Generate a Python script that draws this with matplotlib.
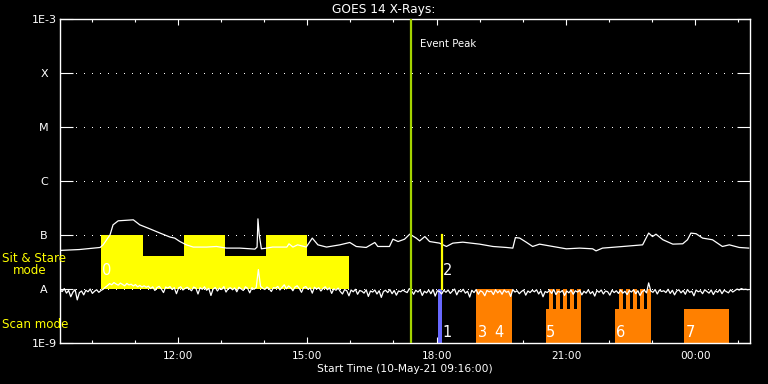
import numpy as np
import matplotlib
matplotlib.use("Agg")
import matplotlib.pyplot as plt

# ---------------- data (time in hours after 10-May-21 09:16:00) ----------------
title = "GOES 14 X-Rays:"
xlabel = "Start Time (10-May-21 09:16:00)"

xtick_major_hours = [2.733, 5.733, 8.733, 11.733, 14.733]
xtick_major_labels = ["12:00", "15:00", "18:00", "21:00", "00:00"]
xtick_minor_hours = [0.733, 1.733, 3.733, 4.733, 6.733, 7.733, 9.733, 10.733,
                     12.733, 13.733, 15.733]

ytick_values = [1e-9, 1e-8, 1e-7, 1e-6, 1e-5, 1e-4, 1e-3]
ytick_labels = ["1E-9", "A", "B", "C", "M", "X", "1E-3"]
grid_levels = [1e-8, 1e-7, 1e-6, 1e-5, 1e-4]

# long-wavelength channel (upper curve)
long_t = [0.00, 0.45, 0.93, 1.00, 1.16, 1.23, 1.35, 1.70, 1.85, 2.08, 2.32, 2.55,
          2.66, 2.78, 2.93, 3.09, 3.40, 3.63, 3.86, 4.17, 4.52, 4.57, 4.59, 4.62,
          4.67, 4.79, 4.93, 5.26, 5.31, 5.40, 5.51, 5.71, 5.85, 5.98, 6.18, 6.49,
          6.72, 6.87, 7.10, 7.30, 7.37, 7.64, 7.72, 7.84, 7.99, 8.11, 8.26, 8.34,
          8.46, 8.57, 8.80, 8.96, 9.11, 9.34, 9.73, 10.04, 10.35, 10.50, 10.56,
          10.66, 10.81, 10.96, 11.12, 11.43, 11.74, 12.05, 12.35, 12.43, 12.58,
          13.05, 13.51, 13.65, 13.74, 13.82, 13.98, 14.21, 14.44, 14.55, 14.63,
          14.75, 14.90, 15.13, 15.36, 15.52, 15.75, 15.97]
long_flux = [5.2e-8, 5.4e-8, 5.9e-8, 6.6e-8, 1.01e-7, 1.55e-7, 1.84e-7, 1.92e-7,
             1.55e-7, 1.31e-7, 1.09e-7, 9.2e-8, 8.8e-8, 7.6e-8, 6.6e-8, 6.0e-8,
             6.0e-8, 6.15e-8, 5.74e-8, 5.74e-8, 5.5e-8, 6.0e-8, 2.0e-7, 1.0e-7,
             5.57e-8, 5.74e-8, 6.0e-8, 6.0e-8, 6.9e-8, 6.0e-8, 6.6e-8, 6.0e-8,
             8.8e-8, 6.6e-8, 6.0e-8, 6.6e-8, 7.3e-8, 6.15e-8, 5.9e-8, 7.3e-8,
             6.15e-8, 6.15e-8, 8.4e-8, 7.6e-8, 8.4e-8, 1.04e-7, 8.8e-8, 7.8e-8,
             9.4e-8, 7.6e-8, 7.1e-8, 6.15e-8, 7.1e-8, 7.4e-8, 6.8e-8, 6.15e-8,
             5.9e-8, 5.74e-8, 9.0e-8, 8.8e-8, 7.4e-8, 6.15e-8, 6.8e-8, 6.15e-8,
             5.57e-8, 5.74e-8, 5.57e-8, 5.1e-8, 5.74e-8, 6.15e-8, 6.6e-8, 1.09e-7,
             9.4e-8, 1.04e-7, 8.2e-8, 6.8e-8, 6.9e-8, 8.2e-8, 1.09e-7, 1.06e-7,
             8.8e-8, 8.2e-8, 6.15e-8, 6.6e-8, 5.9e-8, 5.74e-8]

# short-wavelength channel (lower curve), one value every 0.05 h, in units of 1e-9 W/m^2
short_step_hours = 0.05
short_flux_e9 = [
    9.6, 9.0, 10.2, 8.4, 9.4, 7.2, 8.8, 9.8, 6.3, 8.6, 9.2, 7.8, 9.5, 8.9, 10.0, 8.3, 9.1, 9.7, 8.7, 9.4,
    9.9, 10.8, 11.6, 12.6, 12.0, 13.2, 12.4, 11.8, 12.9, 12.2, 11.5, 12.7, 11.9, 12.3, 11.4, 12.1, 11.0, 11.7, 10.9, 11.5,
    10.8, 11.3, 10.2, 11.0, 9.4, 10.7, 11.2, 10.0, 8.6, 10.9, 10.4, 11.1, 9.8, 10.6, 8.2, 10.5, 11.0, 9.6, 10.3, 10.8,
    10.1, 9.3, 10.9, 10.4, 8.1, 10.6, 9.9, 11.0, 9.5, 10.3, 7.6, 10.0, 10.7, 9.2, 10.4, 9.8, 11.1, 8.8, 10.2, 10.6,
    9.7, 10.5, 8.9, 10.8, 10.1, 9.4, 11.0, 10.3, 8.5, 10.6, 9.9, 10.7, 23.0, 11.2, 10.4, 9.8, 10.9, 10.2, 9.0, 10.6,
    10.4, 11.2, 9.6, 10.8, 12.0, 10.1, 11.4, 10.6, 9.3, 10.9, 11.5, 10.2, 8.7, 10.7, 11.1, 9.9, 10.5, 8.4, 10.8, 10.0,
    10.6, 9.2, 10.3, 11.0, 9.7, 10.5, 8.3, 10.1, 9.5, 10.4, 9.0, 8.1, 9.8, 9.3, 7.5, 9.6, 8.9, 9.9, 8.0, 9.4,
    9.1, 8.4, 9.7, 7.3, 9.2, 8.8, 9.6, 8.1, 9.3, 7.0, 9.0, 9.5, 8.6, 9.8, 8.2, 9.4, 7.7, 9.2, 8.9, 9.6,
    9.0, 8.6, 10.2, 9.3, 8.0, 9.5, 8.8, 9.7, 7.6, 9.1, 8.5, 9.6, 8.2, 9.8, 7.4, 9.3, 9.0, 8.1, 9.5, 8.7,
    9.6, 8.3, 9.2, 10.0, 7.8, 9.4, 8.9, 9.9, 8.4, 9.1, 7.1, 9.5, 8.6, 9.8, 8.0, 9.3, 8.8, 7.5, 9.4, 8.9,
    9.2, 7.9, 9.7, 8.5, 9.4, 8.0, 9.6, 8.7, 9.1, 7.3, 9.8, 8.8, 9.3, 8.2, 9.0, 9.6, 7.7, 9.2, 8.6, 9.5,
    8.9, 9.7, 8.1, 9.3, 7.2, 9.0, 8.6, 9.5, 8.3, 9.8, 7.9, 9.1, 8.7, 9.4, 7.6, 9.2, 8.5, 9.6, 8.0, 9.3,
    8.8, 9.5, 7.8, 9.1, 8.4, 9.7, 8.2, 9.0, 7.4, 9.4, 8.7, 9.6, 8.1, 9.2, 8.9, 7.7, 9.5, 8.6, 9.3, 8.3,
    9.6, 8.4, 9.1, 7.9, 9.4, 8.8, 9.7, 8.2, 9.3, 7.6, 9.0, 9.5, 8.5, 13.0, 9.2, 8.7, 9.8, 8.1, 9.6, 9.0,
    9.3, 8.6, 9.9, 8.3, 9.5, 7.8, 9.2, 9.7, 8.5, 9.4, 8.0, 9.8, 8.7, 9.1, 7.5, 9.6, 8.9, 9.3, 8.2, 9.7,
    9.0, 8.4, 9.6, 7.9, 9.3, 8.7, 9.8, 8.2, 9.5, 9.0, 8.5, 9.7, 8.8, 9.4, 10.0, 9.6, 10.2, 9.8, 9.9, 9.7,
]

# Sit & Stare mode blocks
ss_start = [0.95, 1.92, 2.87, 3.82, 4.77, 5.72]
ss_end = [1.92, 2.87, 3.82, 4.77, 5.72, 6.69]
ss_top = [1e-7, 4.1e-8, 1e-7, 4.1e-8, 1e-7, 4.1e-8]
ss_bottom = 1e-8

# Scan mode blocks: base rectangles and raster "fingers"
scan_start = [9.65, 11.26, 12.88, 14.48]
scan_end = [10.49, 12.08, 13.71, 15.52]
scan_top = [1e-8, 4.2e-9, 4.2e-9, 4.2e-9]
scan_bottom = 1e-9
finger_start = [11.34, 11.50, 11.66, 11.82, 11.99, 12.96, 13.12, 13.28, 13.45, 13.62]
finger_end = [11.43, 11.59, 11.75, 11.91, 12.08, 13.05, 13.21, 13.37, 13.54, 13.71]
finger_top = 1e-8

event_peak_hour = 8.13
obs1_start, obs1_end = 8.76, 8.85
obs2_hour = 8.85

number_labels = ["0", "1", "2", "3", "4", "5", "6", "7"]
number_hours = [0.98, 8.87, 8.87, 9.68, 10.08, 11.27, 12.9, 14.5]
number_flux = [2.2e-8, 1.55e-9, 2.2e-8, 1.55e-9, 1.55e-9, 1.55e-9, 1.55e-9, 1.55e-9]

# ---------------- drawing ----------------
W, H = 768, 384
fig = plt.figure(figsize=(W / 100, H / 100), dpi=100, facecolor="black")
ax = fig.add_axes([60 / W, 1 - 343 / H, 690 / W, (343 - 19.3) / H], facecolor="black")
ax.set_yscale("log")
ax.set_xlim(0, 16)
ax.set_ylim(1e-9, 1e-3)

YELLOW = "#ffff00"
ORANGE = "#ff8000"
GREEN = "#a4d400"
BLUE = "#6868ff"

# dotted level lines
for lv in grid_levels:
    ax.axhline(lv, color="white", lw=1.0, linestyle=(0, (0.72, 5.76)),
               antialiased=False, zorder=1)

# sit & stare blocks
ss_w = [e - s for s, e in zip(ss_start, ss_end)]
ax.bar(ss_start, [t - ss_bottom for t in ss_top], width=ss_w, bottom=ss_bottom,
       align="edge", color=YELLOW, linewidth=0, zorder=2)

# scan blocks
sc_w = [e - s for s, e in zip(scan_start, scan_end)]
ax.bar(scan_start, [t - scan_bottom for t in scan_top], width=sc_w, bottom=scan_bottom,
       align="edge", color=ORANGE, linewidth=0, zorder=2)
fw = [e - s for s, e in zip(finger_start, finger_end)]
ax.bar(finger_start, [finger_top - scan_bottom] * len(finger_start), width=fw,
       bottom=scan_bottom, align="edge", color=ORANGE, linewidth=0, zorder=2)

# observation 1 (blue) bar
ax.bar([obs1_start], [1e-8 - 1e-9], width=[obs1_end - obs1_start], bottom=1e-9,
       align="edge", color=BLUE, linewidth=0, zorder=2)

# curves
short_t = np.arange(len(short_flux_e9)) * short_step_hours
ax.plot(short_t, np.array(short_flux_e9) * 1e-9, color="white", lw=0.9, zorder=3)
ax.plot(long_t, long_flux, color="white", lw=0.9, zorder=3)

# vertical lines
ax.axvline(event_peak_hour, color=GREEN, lw=1.6, zorder=4)
ax.plot([obs2_hour, obs2_hour], [1e-8, 1e-7], color=YELLOW, lw=1.6, zorder=4)
ax.text(event_peak_hour + 0.22, 3.5e-4, "Event Peak", color="white", fontsize=7.3,
        ha="left", va="center", zorder=5)

for lab, hx, fy in zip(number_labels, number_hours, number_flux):
    ax.text(hx, fy, lab, color="white", fontsize=10.5, ha="left", va="center", zorder=5)

# axes styling
for sp in ax.spines.values():
    sp.set_color("white")
    sp.set_linewidth(1.0)

ax.set_xticks(xtick_major_hours)
ax.set_xticklabels(xtick_major_labels)
ax.set_xticks(xtick_minor_hours, minor=True)
ax.tick_params(axis="x", which="major", direction="in", length=4.5, width=0.8,
               colors="white", top=True, bottom=True, labelsize=7.6, pad=6)
ax.tick_params(axis="x", which="minor", direction="in", length=2.3, width=0.8,
               colors="white", top=True, bottom=True)

ax.set_yticks(ytick_values)
ax.set_yticklabels(ytick_labels)
ax.yaxis.set_minor_locator(matplotlib.ticker.NullLocator())
ax.tick_params(axis="y", which="major", direction="in", length=9.5, width=0.8,
               colors="white", left=True, right=True, labelsize=8, pad=11.5)
for lbl in ax.get_yticklabels():
    lbl.set_horizontalalignment("center")

ax.set_xlabel(xlabel, color="white", fontsize=7.7, labelpad=2)
fig.text(0.5, 1 - 9.5 / H, title, color="white", fontsize=8.8, ha="center", va="center")

fig.text(2 / W, 1 - 259 / H, "Sit & Stare", color=YELLOW, fontsize=8.6,
         ha="left", va="center")
fig.text(13 / W, 1 - 271 / H, "mode", color=YELLOW, fontsize=8.6,
         ha="left", va="center")
fig.text(2 / W, 1 - 324 / H, "Scan mode", color=YELLOW, fontsize=8.6,
         ha="left", va="center")

fig.savefig("out.png", dpi=100, facecolor="black")
